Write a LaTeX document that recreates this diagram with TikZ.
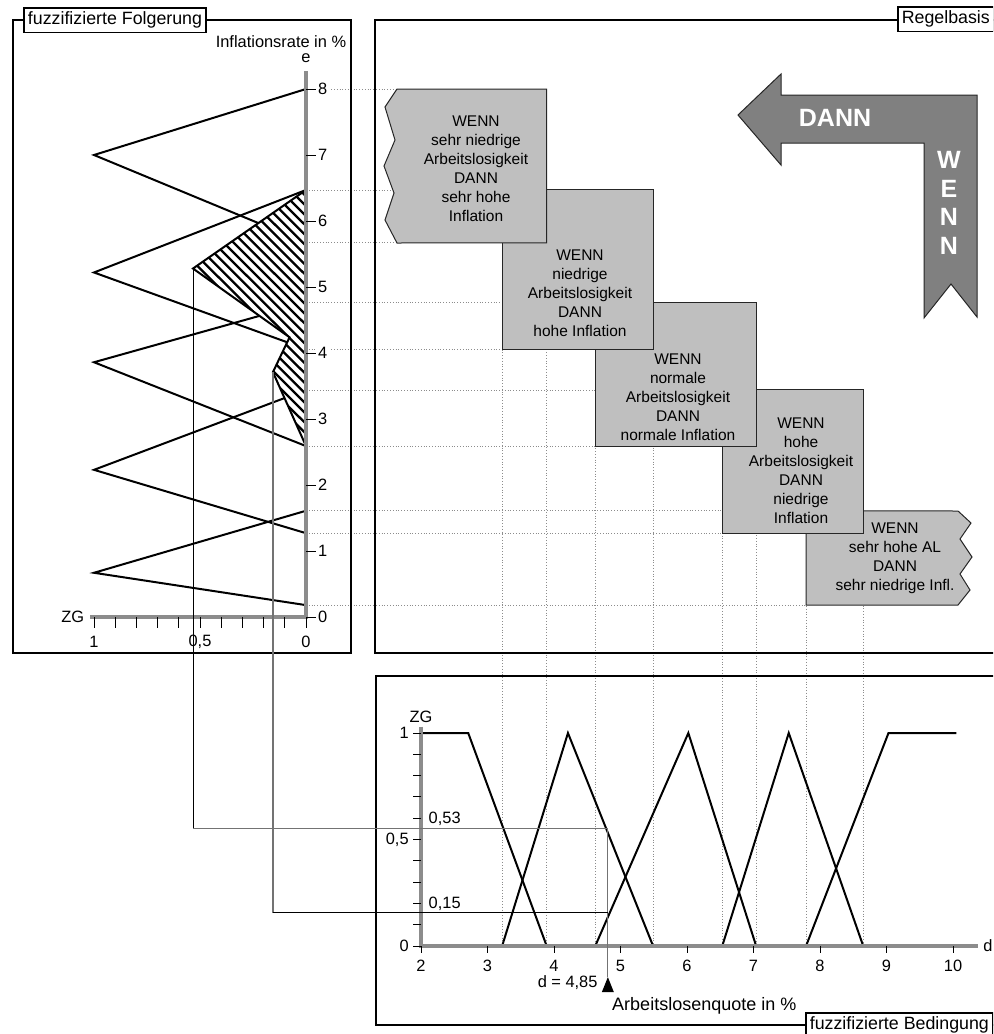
\documentclass[tikz,border=0pt]{standalone}
\usepackage{fontspec}
\setmainfont{Liberation Sans}

\pgfdeclarelayer{background}
\pgfsetlayers{background,main}

\tikzset{
  panel/.style={line width=1pt},
  paneltitle/.style={draw, fill=white, line width=0.8pt, inner sep=2pt,
    font=\fontsize{8.9}{10}\selectfont},
  axisline/.style={draw=gray!90, line width=1.7pt},
  tickmark/.style={line width=0.5pt},
  ticklabel/.style={inner sep=1pt, font=\fontsize{8.2}{9.5}\selectfont},
  mf/.style={line width=1pt},
  hatchline/.style={line width=1.15pt},
  guide/.style={draw=black!45, densely dotted, line width=0.4pt},
  rulebox/.style={draw=black!85, fill=black!25, line width=0.5pt},
  ruletext/.style={align=center, inner sep=0pt, font=\fontsize{7.75}{9.5}\selectfont},
  arrowshape/.style={draw=black!85, fill=black!50, line width=0.5pt},
  bigword/.style={text=white, inner sep=0pt, align=center,
    font=\bfseries\fontsize{12.5}{14.25}\selectfont},
  linkblack/.style={line width=0.5pt},
  linkgray/.style={draw=black!55, line width=0.6pt},
}

\begin{document}
\begin{tikzpicture}[x=0.5pt, y=-0.5pt]
  \useasboundingbox (0,0) rectangle (993,1034);
  \clip (0,0) rectangle (993,1034);

  % frames
  \draw[panel] (13,20) rectangle (351,653);
  \draw[panel] (375,20) rectangle (1010,653);
  \draw[panel] (376,676) rectangle (1010,1025);

  % fuzzifizierte Folgerung: e upwards, ZG to the left
  \begin{scope}[shift={(306,617)}, x={(-106pt,0pt)}, y={(0pt,33pt)}]
    \coordinate (eSHa) at (0,8.00);  \coordinate (eSHb) at (0,5.67);
    \coordinate (eHa)  at (0,6.47);  \coordinate (eHb)  at (0,4.06);
    \coordinate (eNa)  at (0,4.76);  \coordinate (eNb)  at (0,2.59);
    \coordinate (eNda) at (0,3.44);  \coordinate (eNdb) at (0,1.27);
    \coordinate (eSNa) at (0,1.61);  \coordinate (eSNb) at (0,0.18);

    \draw[mf] (eSHa) -- (1,7.00) -- (eSHb);
    \draw[mf] (eHa)  -- (1,5.22) -- (eHb);
    \draw[mf] (eNa)  -- (1,3.86) -- (eNb);
    \draw[mf] (eNda) -- (1,2.23) -- (eNdb);
    \draw[mf] (eSNa) -- (1,0.67) -- (eSNb);

    % scaled sets, hatched
    \coordinate (cutH) at (0.533,5.28);
    \coordinate (cutN) at (0.156,3.71);
    \coordinate (knee) at (intersection of cutH--eHb and eNa--cutN);
    \fill[white] (eHa) -- (cutH) -- (knee) -- (cutN) -- (eNb) -- cycle;
    \begin{scope}
      \clip (eHa) -- (cutH) -- (knee) -- (cutN) -- (eNb) -- cycle;
      \foreach \i in {0,...,32}
        \draw[hatchline] (0.6,8.6-0.15*\i) -- ++(-0.8,-2.565);
    \end{scope}
    \draw[mf] (eHa) -- (cutH) -- (knee) -- (cutN) -- (eNb);

    \draw[axisline] (0,8.27) -- (0,0) -- (1.02,0);
    \foreach \lev in {0,...,8}
      \draw[tickmark] (0,\lev) -- ++(-0.045,0)
        node[ticklabel, anchor=west, fill=white] {\lev};
    \foreach \i in {0,...,10}
      \draw[tickmark] (\i/10,0) -- ++(0,-0.17);
    \node[ticklabel] (zg1) at (1,-0.38) {1};
    \node[ticklabel] (zg05) at (0.5,-0.38) {0,5};
    \node[ticklabel] (zg0) at (0,-0.38) {0};
    \node[ticklabel, anchor=east] (zgl) at (1.035,0) {ZG};
    \node[ticklabel] (elabel) at (0,8.46) {e};
    \node[ticklabel] (infl) at (0.118,8.72) {Inflationsrate in \%};
  \end{scope}

  % fuzzifizierte Bedingung: d to the right, ZG upwards
  \begin{scope}[shift={(288,946)}, x={(33.25pt,0pt)}, y={(0pt,106.5pt)}]
    \coordinate (dSNb) at (3.89,0);
    \coordinate (dNda) at (3.22,0);  \coordinate (dNdb) at (5.49,0);
    \coordinate (dNa)  at (4.62,0);  \coordinate (dNb)  at (7.04,0);
    \coordinate (dHa)  at (6.53,0);  \coordinate (dHb)  at (8.65,0);
    \coordinate (dSHa) at (7.79,0);

    \draw[mf] (2,1) -- (2.71,1) -- (dSNb);
    \draw[mf] (dNda) -- (4.21,1) -- (dNdb);
    \draw[mf] (dNa) -- (6.02,1) -- (dNb);
    \draw[mf] (dHa) -- (7.53,1) -- (dHb);
    \draw[mf] (dSHa) -- (9.03,1) -- (10.05,1);

    \draw[axisline] (2,1.03) -- (2,0) -- (10.37,0);
    \foreach \i in {0,...,10}
      \draw[tickmark] (2,\i/10) -- ++(-0.12,0);
    \foreach \bnd in {2,...,10}{
      \draw[tickmark] (\bnd,0) -- ++(0,-0.035);
      \node[ticklabel] (d\bnd) at (\bnd,-0.094) {\bnd};
    }
    \node[ticklabel, anchor=east] (mu1) at (1.85,1) {1};
    \node[ticklabel, anchor=east] (mu05) at (1.85,0.5) {0,5};
    \node[ticklabel, anchor=east] (mu0) at (1.85,0) {0};
    \node[ticklabel] (zgb) at (2,1.075) {ZG};
    \node[ticklabel, anchor=west] (dlabel) at (10.42,0) {d};
    \node[ticklabel, anchor=west] (v53) at (2.08,0.595) {0,53};
    \node[ticklabel, anchor=west] (v15) at (2.08,0.2) {0,15};

    \coordinate (mu53) at (4.81,0.553);
    \coordinate (mu15) at (4.81,0.155);
    \coordinate (marker) at (4.81,-0.146);
    \fill (marker) -- ++(0.09,-0.07) -- ++(-0.18,0) -- cycle;
    \node[ticklabel, anchor=east] (dval) at (4.69,-0.174) {d = 4,85};
    \node[ticklabel, font=\fontsize{9}{10}\selectfont] (dname) at (6.26,-0.282)
      {Arbeitslosenquote in \%};
  \end{scope}

  % dotted guides between the two charts
  \begin{pgfonlayer}{background}
    \foreach \lev/\bnd in {eSHa/dSNb, eSHb/dSNb, eHa/dNdb, eHb/dNdb, eNa/dNb,
        eNb/dNb, eNda/dHb, eNdb/dHb, eSNa/dSHa, eSNb/dSHa}
      \draw[guide] (\lev) -- (\bnd |- \lev);
    \foreach \bnd/\lev in {dSNb/eSHa, dNda/eHa, dNdb/eHa, dNa/eNa, dNb/eNa,
        dHa/eNda, dHb/eNda, dSHa/eSNa}
      \draw[guide] (\bnd |- \lev) -- (\bnd);
  \end{pgfonlayer}

  % rule base, back to front
  \draw[rulebox] (dSHa |- eSNa) -- (958,511) -- (971,523) -- (960,539) -- (972,557)
    -- (960,574) -- (970,590) -- (958,605) -- (dSHa |- eSNb) -- cycle;
  \node[ruletext] (r5) at (895,558) {WENN\\sehr hohe AL\\DANN\\sehr niedrige Infl.};
  \draw[rulebox] (dHa |- eNda) rectangle (dHb |- eNdb);
  \node[ruletext] (r4) at (801,471) {WENN\\hohe\\Arbeitslosigkeit\\DANN\\niedrige\\Inflation};
  \draw[rulebox] (dNa |- eNa) rectangle (dNb |- eNb);
  \node[ruletext] (r3) at (678,397) {WENN\\normale\\Arbeitslosigkeit\\DANN\\normale Inflation};
  \draw[rulebox] (dNda |- eHa) rectangle (dNdb |- eHb);
  \node[ruletext] (r2) at (580,293) {WENN\\niedrige\\Arbeitslosigkeit\\DANN\\hohe Inflation};
  \draw[rulebox] (dSNb |- eSHa) -- (397,89) -- (385,107) -- (395,140) -- (384,166)
    -- (394,193) -- (385,220) -- (397,243) -- (dSNb |- eSHb) -- cycle;
  \node[ruletext] (r1) at (476,169) {WENN\\sehr niedrige\\Arbeitslosigkeit\\DANN\\sehr hohe\\Inflation};

  % reading direction
  \draw[arrowshape] (738,115) -- (781,74) -- (781,95) -- (977,95) -- (977,317)
    -- (951,284) -- (924,318) -- (924,143) -- (781,143) -- (781,165) -- cycle;
  \node[bigword] (dann) at (835,118) {DANN};
  \node[bigword] (wenn) at (949,203) {W\\E\\N\\N};

  % cut levels
  \draw[linkblack] (cutH) -- (cutH |- mu53);
  \draw[linkgray] (cutH |- mu53) -- (mu53) -- (marker);
  \draw[linkgray] (cutN) -- (cutN |- mu15);
  \draw[linkblack] (cutN |- mu15) -- (mu15);

  % titles
  \node[paneltitle] (folgerung) at (115,20) {fuzzifizierte Folgerung};
  \node[paneltitle, anchor=west] (regelbasis) at (897,19) {Regelbasis};
  \node[paneltitle, anchor=west] (bedingung) at (805,1025) {fuzzifizierte Bedingung};
\end{tikzpicture}
\end{document}
